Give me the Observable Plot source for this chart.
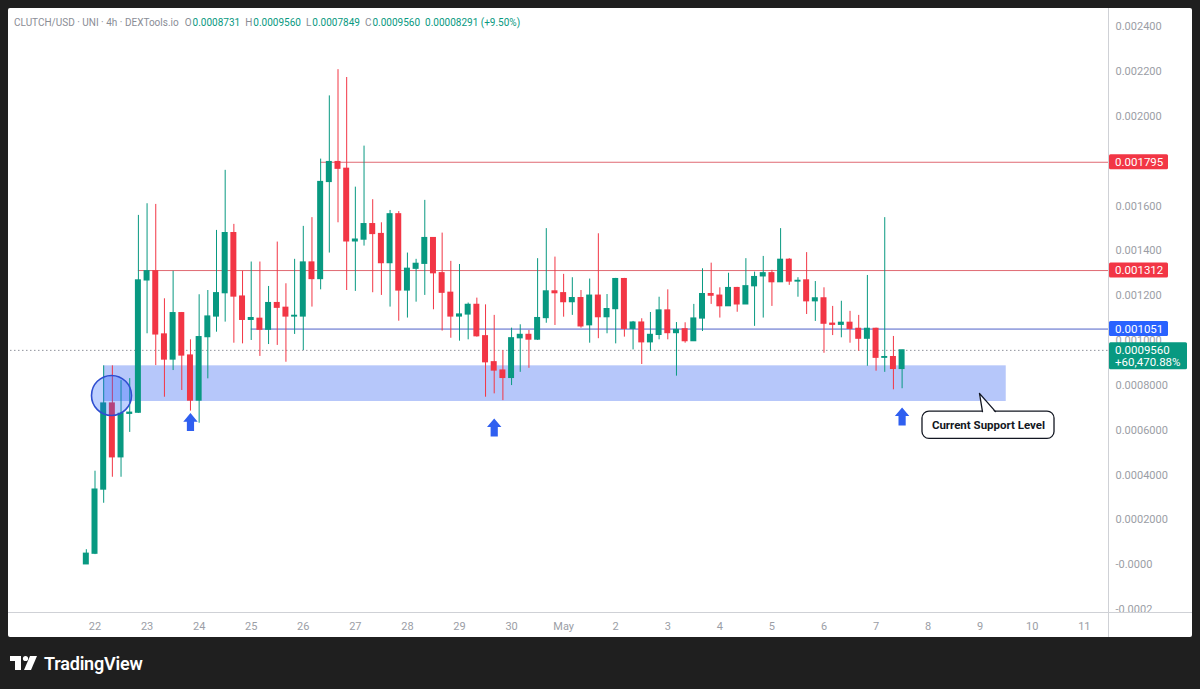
<!DOCTYPE html>
<html><head><meta charset="utf-8">
<script src="https://cdn.jsdelivr.net/npm/d3@7"></script>
<script src="https://cdn.jsdelivr.net/npm/@observablehq/plot@0.6"></script>
<style>
html,body{margin:0;padding:0;background:#1f1f1f;}
body{width:1200px;height:689px;position:relative;overflow:hidden;font-family:Roboto,"Noto Sans",sans-serif;}
#panel{position:absolute;left:8px;top:8px;width:1184px;height:629px;background:#fff;border-radius:2px;overflow:hidden}
#chart{position:absolute;left:0;top:0}
#legend{position:absolute;left:6px;top:9px;font-size:10px;line-height:12px;color:#8a8d96;white-space:nowrap}
#legend .v{color:#089981;margin-right:5px}
#legend .k{margin-right:1px}
#brand{position:absolute;left:8px;top:652px;height:22px;display:flex;align-items:center;color:#fff;font-size:18px;font-weight:600;letter-spacing:-0.2px}
#brand svg{margin-right:6px}
</style></head>
<body>
<div id="panel"><div id="chart"></div><div id="legend"></div></div>
<div id="brand"><svg width="30" height="16" viewBox="0 0 30 16"><rect x="2" y="1" width="11" height="5" fill="#fff"/><rect x="7" y="1" width="6" height="14" fill="#fff"/><circle cx="17.5" cy="3.5" r="2.6" fill="#fff"/><polygon points="22,1 29,1 23,15 16,15" fill="#fff"/></svg><span>TradingView</span></div>
<script>
// ---- data ----
const ticker = "CLUTCH/USD · UNI · 4h · DEXTools.io";
const ohlcLabels = ["O", "H", "L", "C"];
const ohlcValues = ["0.0008731", "0.0009560", "0.0007849", "0.0009560"];
const changeText = "0.00008291 (+9.50%)";

const firstCandle = Date.UTC(2024, 3, 21, 20); // Apr 21 20:00, 4h candles
const opens = [0.0000016,0.000049,0.000335,0.000719,0.000479,0.000673,0.000678,0.001268,0.001309,0.001027,
0.000915,0.001122,0.000933,0.000732,0.001015,0.001107,0.001211,0.001479,0.001196,0.001092,
0.001097,0.001048,0.001167,0.001146,0.001107,0.001107,0.001348,0.001274,0.001707,0.001796,
0.001766,0.001442,0.00145,0.001519,0.001475,0.001345,0.001563,0.001223,0.00132,0.001342,
0.001457,0.0013,0.001213,0.001107,0.001116,0.001159,0.001019,0.000903,0.000866,0.000833,
0.00101,0.001025,0.001004,0.0011,0.001219,0.001211,0.001171,0.001189,0.001068,0.0012,
0.001104,0.00114,0.001274,0.001052,0.00108,0.000992,0.001025,0.001134,0.001033,0.00105,
0.000997,0.001098,0.001207,0.0012,0.001153,0.001234,0.001161,0.001242,0.001286,0.0013,
0.00126,0.00136,0.001263,0.001268,0.001175,0.001188,0.001075,0.00107,0.001079,0.001052,
0.001008,0.001052,0.000923,0.000926,0.0008731];
const highs = [0.000067,0.000417,0.000887,0.000887,0.000821,0.00083,0.001558,0.00161,0.001607,0.001186,
0.001309,0.001125,0.001003,0.001204,0.001223,0.001491,0.001759,0.001518,0.001309,0.00135,
0.00135,0.001241,0.001439,0.001253,0.001362,0.001509,0.001548,0.001809,0.002091,0.002208,
0.002173,0.001684,0.001867,0.001628,0.001525,0.00158,0.001575,0.00139,0.001362,0.001625,
0.001457,0.001479,0.001353,0.001339,0.001167,0.001189,0.001159,0.001112,0.000955,0.001055,
0.00107,0.001045,0.001365,0.001499,0.001372,0.001295,0.00128,0.001223,0.001274,0.001476,
0.001205,0.001277,0.001277,0.001085,0.001097,0.001125,0.001193,0.001226,0.00108,0.001079,
0.001161,0.00132,0.001345,0.001235,0.0013,0.001237,0.001365,0.001305,0.001375,0.001313,
0.001499,0.001365,0.00128,0.001392,0.001263,0.001235,0.001152,0.001175,0.00113,0.001112,
0.00129,0.001055,0.001548,0.001018,0.000956];
const lows = [0.0000016,0.000045,0.000274,0.00039,0.00039,0.00059,0.000675,0.00103,0.000888,0.000747,
0.000866,0.000777,0.000685,0.000631,0.000829,0.001037,0.001082,0.000988,0.000985,0.001,
0.000929,0.000982,0.000978,0.000903,0.001027,0.000955,0.001149,0.001226,0.00139,0.001525,
0.001223,0.001219,0.001421,0.001213,0.001201,0.001149,0.001086,0.0011,0.001171,0.001201,
0.001137,0.001042,0.00101,0.000997,0.001003,0.001015,0.000747,0.000762,0.000732,0.000799,
0.000858,0.000876,0.001,0.001077,0.001067,0.001104,0.001112,0.001055,0.000988,0.001008,
0.00103,0.000985,0.001015,0.000958,0.000893,0.000951,0.001003,0.001003,0.000841,0.000988,
0.000997,0.00104,0.001161,0.0011,0.001152,0.001126,0.001161,0.001063,0.0011,0.001152,
0.00126,0.001246,0.001193,0.001116,0.001085,0.000943,0.001022,0.001012,0.000988,0.000952,
0.000885,0.000863,0.000858,0.00078,0.0007849];
const closes = [0.000049,0.000335,0.000719,0.000479,0.000673,0.000678,0.001268,0.001309,0.001027,0.000915,
0.001122,0.000933,0.000732,0.001015,0.001107,0.001211,0.001479,0.001196,0.001092,0.0011,
0.001048,0.001167,0.001146,0.001107,0.00111,0.001348,0.001274,0.001707,0.001796,0.001766,
0.001442,0.00145,0.001519,0.001475,0.001345,0.001563,0.001223,0.00132,0.001342,0.001457,
0.0013,0.001213,0.001107,0.001116,0.001159,0.001019,0.000903,0.000866,0.000833,0.00101,
0.001025,0.001004,0.0011,0.001219,0.001211,0.001171,0.001189,0.001063,0.0012,0.001104,
0.00114,0.001274,0.001052,0.00108,0.000992,0.001025,0.001134,0.001033,0.001047,0.000997,
0.001098,0.001207,0.0012,0.001153,0.001234,0.001161,0.001242,0.001283,0.0013,0.00126,
0.00136,0.001263,0.001266,0.001175,0.001188,0.001075,0.00107,0.001079,0.001052,0.001008,
0.001052,0.000923,0.000926,0.0008731,0.000956];

// horizontal levels
const levelValues = [0.001795, 0.001312, 0.001051];
const levelStarts = [Date.UTC(2024,3,26,8), Date.UTC(2024,3,22,20), Date.UTC(2024,3,25,0)];
const levelKinds = ["resistance", "resistance", "support"];
const levelTags = ["0.001795", "0.001312", "0.001051"];
const lastPrice = 0.000956;
const lastPriceTag = ["0.0009560", "+60,470.88%"];

// support zone
const zoneStart = Date.UTC(2024,3,22,4), zoneEnd = Date.UTC(2024,4,9,12);
const zoneLow = 0.000728, zoneHigh = 0.000887;
// circle highlight
const circleAt = [{date: Date.UTC(2024,3,22,7,36), value: 0.000755}];
// arrows
const arrowDates = [Date.UTC(2024,3,23,20), Date.UTC(2024,3,29,16), Date.UTC(2024,4,7,12)];
const arrowValues = [0.000636, 0.000612, 0.000661];
// callout
const calloutText = "Current Support Level";
const calloutBox = {x1: Date.UTC(2024,4,7,21,24), x2: Date.UTC(2024,4,10,10,15), y1: 0.000561, y2: 0.000683};
const calloutPointer = [
  {date: Date.UTC(2024,4,9,1,3), value: 0.000683},
  {date: Date.UTC(2024,4,8,23,40), value: 0.000764},
  {date: Date.UTC(2024,4,9,7,3), value: 0.000683}];

// axes
const yTicks = [-0.0002,0,0.0002,0.0004,0.0006,0.0008,0.001,0.0012,0.0014,0.0016,0.002,0.0022,0.0024];
const yTickLabels = ["-0.0002","-0.0000","0.0002000","0.0004000","0.0006000","0.0008000","0.001000","0.001200","0.001400","0.001600","0.002000","0.002200","0.002400"];
const xTickDates = [Date.UTC(2024,3,22),Date.UTC(2024,3,23),Date.UTC(2024,3,24),Date.UTC(2024,3,25),Date.UTC(2024,3,26),Date.UTC(2024,3,27),Date.UTC(2024,3,28),Date.UTC(2024,3,29),Date.UTC(2024,3,30),Date.UTC(2024,4,1),Date.UTC(2024,4,2),Date.UTC(2024,4,3),Date.UTC(2024,4,4),Date.UTC(2024,4,5),Date.UTC(2024,4,6),Date.UTC(2024,4,7),Date.UTC(2024,4,8),Date.UTC(2024,4,9),Date.UTC(2024,4,10),Date.UTC(2024,4,11)];
const xTickLabels = ["22","23","24","25","26","27","28","29","30","May","2","3","4","5","6","7","8","9","10","11"];

// ---- build ----
const GREEN = "#089981", RED = "#f23645", BLUE = "#2962ff";
const H4 = 4 * 3600e3, half = 1.38 * 3600e3;
const candles = opens.map((o, i) => ({date: new Date(firstCandle + i * H4), open: o, high: highs[i], low: lows[i], close: closes[i]}));
const up = candles.filter(d => d.close >= d.open), down = candles.filter(d => d.close < d.open);
const levels = levelValues.map((v, i) => ({value: v, start: new Date(levelStarts[i]), kind: levelKinds[i], tag: levelTags[i]}));
const xDomain = [new Date(Date.UTC(2024,3,20,9,3)), new Date(Date.UTC(2024,4,11,11,8))];

const arrowSymbol = {
  draw(ctx, size) {
    const r = Math.sqrt(size / Math.PI);
    ctx.moveTo(0, -r);
    ctx.lineTo(0.8 * r, -0.05 * r);
    ctx.lineTo(0.4 * r, -0.05 * r);
    ctx.lineTo(0.4 * r, r);
    ctx.lineTo(-0.4 * r, r);
    ctx.lineTo(-0.4 * r, -0.05 * r);
    ctx.lineTo(-0.8 * r, -0.05 * r);
    ctx.closePath();
  }
};

const bodyMark = (data, color) => Plot.rect(data, {
  x1: d => new Date(+d.date - half), x2: d => new Date(+d.date + half),
  y1: "open", y2: "close", fill: color, insetTop: -0.6, insetBottom: -0.6
});

const chart = Plot.plot({
  width: 1184, height: 629,
  marginLeft: 2, marginRight: 84, marginTop: 0, marginBottom: 25,
  style: {fontFamily: "Roboto, sans-serif", fontSize: "11px", color: "#9b9ea6", background: "transparent", overflow: "visible"},
  x: {type: "utc", domain: xDomain},
  y: {domain: [-0.0002132, 0.0024808]},
  marks: [
    Plot.rect([{}], {x1: () => new Date(zoneStart), x2: () => new Date(zoneEnd), y1: () => zoneLow, y2: () => zoneHigh, fill: "#b6c7fa"}),
    Plot.ruleY([lastPrice], {y: d => d, stroke: "#8f939c", strokeDasharray: "1.5,2.5"}),
    Plot.ruleY(levels, {y: "value", x1: "start", x2: () => xDomain[1], stroke: d => d.kind === "support" ? "#4e62c8" : "#e06a73"}),
    Plot.ruleX(up, {x: "date", y1: "low", y2: "high", stroke: GREEN}),
    Plot.ruleX(down, {x: "date", y1: "low", y2: "high", stroke: RED}),
    bodyMark(up, GREEN),
    bodyMark(down, RED),
    Plot.dot(circleAt, {x: d => new Date(d.date), y: "value", r: 20, fill: BLUE, fillOpacity: 0.3, stroke: "#2f4ed0", strokeWidth: 1.6}),
    Plot.dot(arrowDates.map((t, i) => ({date: new Date(t), value: arrowValues[i]})), {x: "date", y: "value", r: 9, symbol: arrowSymbol, fill: "#2f5ff0"}),
    Plot.line(calloutPointer, {x: d => new Date(d.date), y: "value", fill: "white", stroke: "none", dy: 2}),
    Plot.rect([calloutBox], {x1: d => new Date(d.x1), x2: d => new Date(d.x2), y1: "y1", y2: "y2", fill: "white", stroke: "#131722", strokeWidth: 1.3, rx: 7}),
    Plot.line(calloutPointer, {x: d => new Date(d.date), y: "value", fill: "white", stroke: "none", dy: 1.5}),
    Plot.line(calloutPointer, {x: d => new Date(d.date), y: "value", stroke: "#131722", strokeWidth: 1.3}),
    Plot.text([calloutBox], {x: d => new Date((d.x1 + d.x2) / 2), y: d => (d.y1 + d.y2) / 2, text: () => calloutText, fontWeight: "bold", fontSize: 11.5, fill: "#131722"}),
    Plot.axisY({anchor: "right", ticks: yTicks, tickFormat: d => yTickLabels[yTicks.indexOf(d)], tickSize: 0, tickPadding: 7, label: null}),
    Plot.axisX({ticks: xTickDates.map(t => new Date(t)), tickFormat: d => xTickLabels[xTickDates.indexOf(+d)], tickSize: 0, tickPadding: 10, label: null})
  ]
});
document.getElementById("chart").appendChild(chart);

// frame lines & price tags via the library's scales
const svg = d3.select(chart);
const ys = chart.scale("y"), xs = chart.scale("x");
const right = xs.range[1], bottom = ys.range[0];
svg.append("line").attr("x1", right + 0.5).attr("x2", right + 0.5).attr("y1", 0).attr("y2", 629).attr("stroke", "#cfd1d6");
svg.append("line").attr("x1", 0).attr("x2", 1184).attr("y1", bottom + 0.5).attr("y2", bottom + 0.5).attr("stroke", "#cfd1d6");
function tag(v, lines, bg, w) {
  const y = ys.apply(v);
  const h = lines.length === 1 ? 15 : 27;
  const g = svg.append("g").attr("text-anchor", "start");
  g.append("rect").attr("x", right + 1).attr("y", y - 7.5).attr("width", w).attr("height", h).attr("rx", 1.5).attr("fill", bg);
  lines.forEach((t, i) => g.append("text").attr("x", right + 7).attr("y", y + 4 + i * 12.5).attr("fill", "#fff")
    .attr("text-anchor", "start").attr("font-size", 11.5).attr("font-family", "Roboto, sans-serif").text(t));
}
levels.forEach(l => tag(l.value, [l.tag], l.kind === "support" ? BLUE : RED, 59));
tag(lastPrice, lastPriceTag, GREEN, 78);

// legend
const lg = document.getElementById("legend");
lg.innerHTML = `<span style="margin-right:6px">${ticker}</span>` +
  ohlcLabels.map((l, i) => `<span class="k">${l}</span><span class="v">${ohlcValues[i]}</span>`).join("") +
  `<span class="v">${changeText}</span>`;
</script>
</body></html>
